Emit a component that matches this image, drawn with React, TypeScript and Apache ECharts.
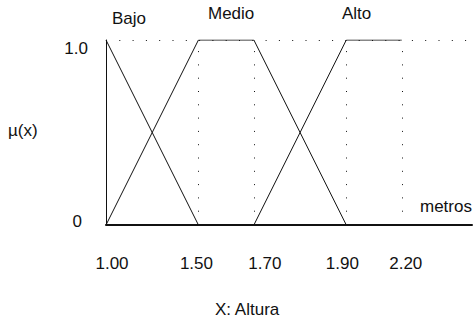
import React, { useEffect, useRef } from "react";
import * as echarts from "echarts";

// Breakpoints of the fuzzy sets on the height axis (metres)
const breakpoints = [1.0, 1.5, 1.7, 1.9, 2.2];
const tickLabels = ["1.00", "1.50", "1.70", "1.90", "2.20"];
// The axis is schematic: drawn spacing between consecutive breakpoints
const schematicGaps = [5, 3, 5, 3];

// Membership functions as [height, mu] points
const bajo: [number, number][] = [
  [1.0, 1],
  [1.5, 0],
];
const medio: [number, number][] = [
  [1.0, 0],
  [1.5, 1],
  [1.7, 1],
  [1.9, 0],
];
const alto: [number, number][] = [
  [1.7, 0],
  [1.9, 1],
  [2.2, 1],
];

const setNames = ["Bajo", "Medio", "Alto"];
const yTickLabels = ["0", "1.0"];

const FONT = "'Liberation Sans', Arial, sans-serif";
const INK = "#111";

// cumulative schematic positions of breakpoints
const stops: number[] = breakpoints.map((_, i) =>
  schematicGaps.slice(0, i).reduce((a, b) => a + b, 0)
);

// piecewise-linear warp from metres to schematic axis units
function warp(v: number): number {
  for (let i = 0; i < breakpoints.length - 1; i++) {
    const a = breakpoints[i];
    const b = breakpoints[i + 1];
    if (v >= a && v <= b) {
      return stops[i] + ((v - a) / (b - a)) * (stops[i + 1] - stops[i]);
    }
  }
  return v < breakpoints[0] ? stops[0] : stops[stops.length - 1];
}

const toAxis = (pts: [number, number][]) => pts.map(([x, mu]) => [warp(x), mu]);

// small per-label nudges of the tick texts
const labelShift = [6, -2, 11, -4, 4];

export default function App() {
  const ref = useRef<HTMLDivElement>(null);

  useEffect(() => {
    if (!ref.current) return;
    const chart = echarts.init(ref.current, null, { renderer: "svg" });

    const lineSeries = (name: string, pts: [number, number][]) => ({
      name,
      type: "line",
      data: toAxis(pts),
      symbol: "none",
      lineStyle: { color: INK, width: 1 },
      silent: true,
    });

    const rich: Record<string, any> = {};
    tickLabels.forEach((_, i) => {
      const s = labelShift[i];
      rich["t" + i] = {
        fontFamily: FONT,
        fontSize: 17,
        color: INK,
        padding: s >= 0 ? [0, 0, 0, 2 * s] : [0, -2 * s, 0, 0],
      };
    });

    const xMax = stops[stops.length - 1] + 3.8;

    chart.setOption({
      animation: false,
      backgroundColor: "#fff",
      textStyle: { fontFamily: FONT },
      grid: {
        left: 106,
        right: 3,
        top: 40,
        bottom: 100,
        outerBoundsMode: "none",
      },
      xAxis: {
        type: "value",
        min: 0,
        max: xMax,
        axisLine: { show: true, onZero: false, lineStyle: { color: INK, width: 2 } },
        axisTick: { show: false },
        splitLine: { show: false },
        axisLabel: {
          customValues: stops,
          margin: 30,
          formatter: (v: number) => {
            const i = stops.indexOf(v);
            return i < 0 ? "" : `{t${i}|${tickLabels[i]}}`;
          },
          rich,
        },
      },
      yAxis: {
        type: "value",
        min: 0,
        max: 1,
        interval: 1,
        axisLine: { show: true, lineStyle: { color: INK, width: 1 } },
        axisTick: { show: false },
        splitLine: { show: false },
        axisLabel: {
          margin: 18,
          formatter: (v: number) => (v === 0 ? `{z|${yTickLabels[0]}}` : `{o|${yTickLabels[1]}}`),
          rich: {
            z: { fontFamily: FONT, fontSize: 17, color: INK, padding: [0, 6, 8, 0] },
            o: { fontFamily: FONT, fontSize: 17, color: INK, padding: [16, 0, 0, 0] },
          },
        },
      },
      graphic: [
        { type: "text", left: 8, top: 122, style: { text: "µ(x)", font: `17px ${FONT}`, fill: INK } },
        { type: "text", left: 112, top: 10, style: { text: setNames[0], font: `17px ${FONT}`, fill: INK } },
        { type: "text", left: 208, top: 5, style: { text: setNames[1], font: `17px ${FONT}`, fill: INK } },
        { type: "text", left: 342, top: 5, style: { text: setNames[2], font: `17px ${FONT}`, fill: INK } },
        { type: "text", left: 420, top: 198, style: { text: "metros", font: `17px ${FONT}`, fill: INK } },
        { type: "text", left: 215, top: 301, style: { text: "X: Altura", font: `17px ${FONT}`, fill: INK } },
      ],
      series: [
        {
          ...lineSeries(setNames[0], bajo),
          markLine: {
            silent: true,
            symbol: "none",
            label: { show: false },
            lineStyle: { color: INK, width: 1, type: [1, 12.3], opacity: 1 },
            data: [
              { yAxis: 1 },
              ...stops.slice(1).map((s) => ({ xAxis: s })),
            ],
          },
        },
        lineSeries(setNames[1], medio),
        lineSeries(setNames[2], alto),
      ],
    });

    return () => chart.dispose();
  }, []);

  return (
    <div
      ref={ref}
      style={{ position: "fixed", left: 0, top: 0, width: 475, height: 325 }}
    />
  );
}
